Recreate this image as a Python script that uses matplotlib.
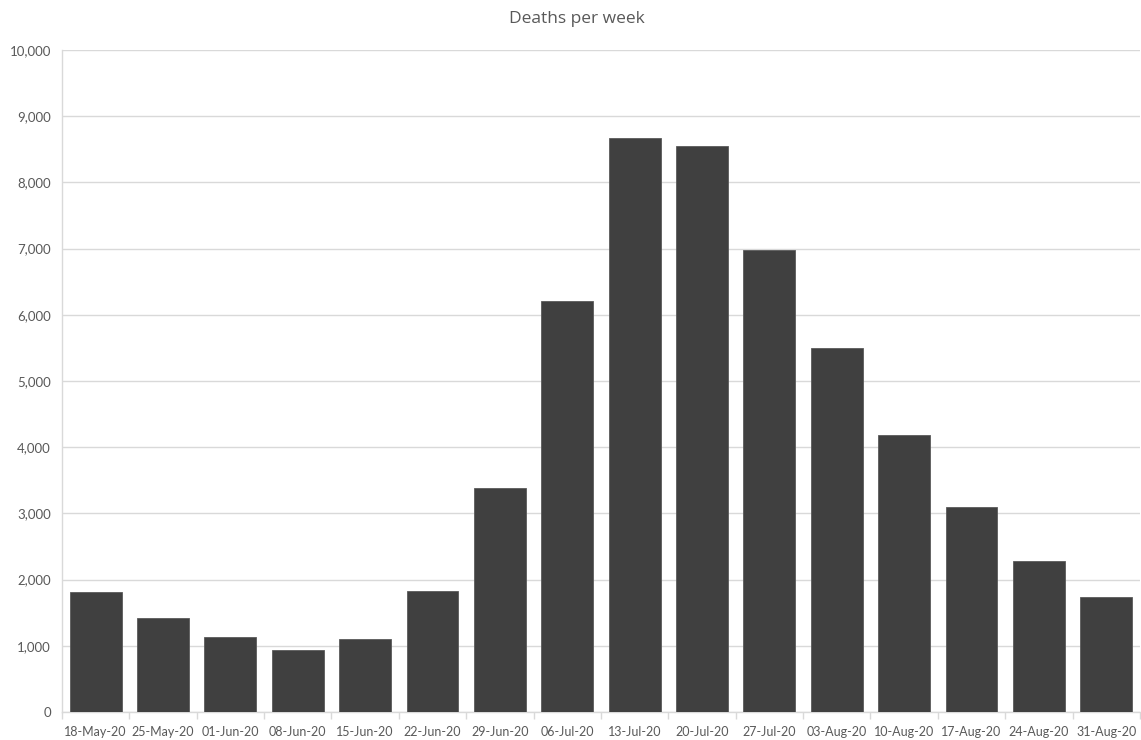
import matplotlib
matplotlib.use("Agg")
import matplotlib.pyplot as plt
from matplotlib.ticker import FuncFormatter, FixedLocator
import numpy as np

weeks = ["18-May-20", "25-May-20", "01-Jun-20", "08-Jun-20", "15-Jun-20", "22-Jun-20",
         "29-Jun-20", "06-Jul-20", "13-Jul-20", "20-Jul-20", "27-Jul-20", "03-Aug-20",
         "10-Aug-20", "17-Aug-20", "24-Aug-20", "31-Aug-20"]
deaths = [1820, 1420, 1130, 940, 1110, 1830, 3380, 6210, 8670, 8550, 6980, 5500,
          4180, 3100, 2280, 1740]
title = "Deaths per week"

plt.rcParams['font.family'] = ['Lato', 'DejaVu Sans']
txt = '#595959'
grid = '#d9d9d9'

fig = plt.figure(figsize=(11.41, 7.40), dpi=100)
ax = fig.add_axes([0.0543, 0.0378, 0.9448, 0.8946])

x = np.arange(len(weeks))
ax.bar(x, deaths, width=0.77, color='#404040', edgecolor='#5a5a5a', linewidth=0.6, zorder=3)

ax.set_xlim(-0.5, len(weeks) - 0.5)
ax.set_ylim(0, 10000)
ax.set_yticks(np.arange(0, 10001, 1000))
ax.yaxis.set_major_formatter(FuncFormatter(lambda v, p: f"{int(v):,}"))
ax.grid(axis='y', color=grid, linewidth=1.0, zorder=0)

ax.set_xticks(x)
ax.set_xticklabels(weeks)
ax.xaxis.set_minor_locator(FixedLocator(np.arange(-0.5, len(weeks), 1.0)))
ax.tick_params(axis='x', which='major', length=0, pad=10, labelsize=9.0, labelcolor=txt)
ax.tick_params(axis='x', which='minor', length=5, color=grid, width=1)
ax.tick_params(axis='y', length=0, pad=8, labelsize=9.5, labelcolor=txt)

for s in ['top', 'right']:
    ax.spines[s].set_visible(False)
for s in ['left', 'bottom']:
    ax.spines[s].set_color(grid)
    ax.spines[s].set_linewidth(1.0)

fig.text(0.5056, 0.974, title, ha='center', va='center', fontsize=12.5,
         color=txt, family=['Open Sans', 'DejaVu Sans'])

fig.savefig("out.png", dpi=100)
